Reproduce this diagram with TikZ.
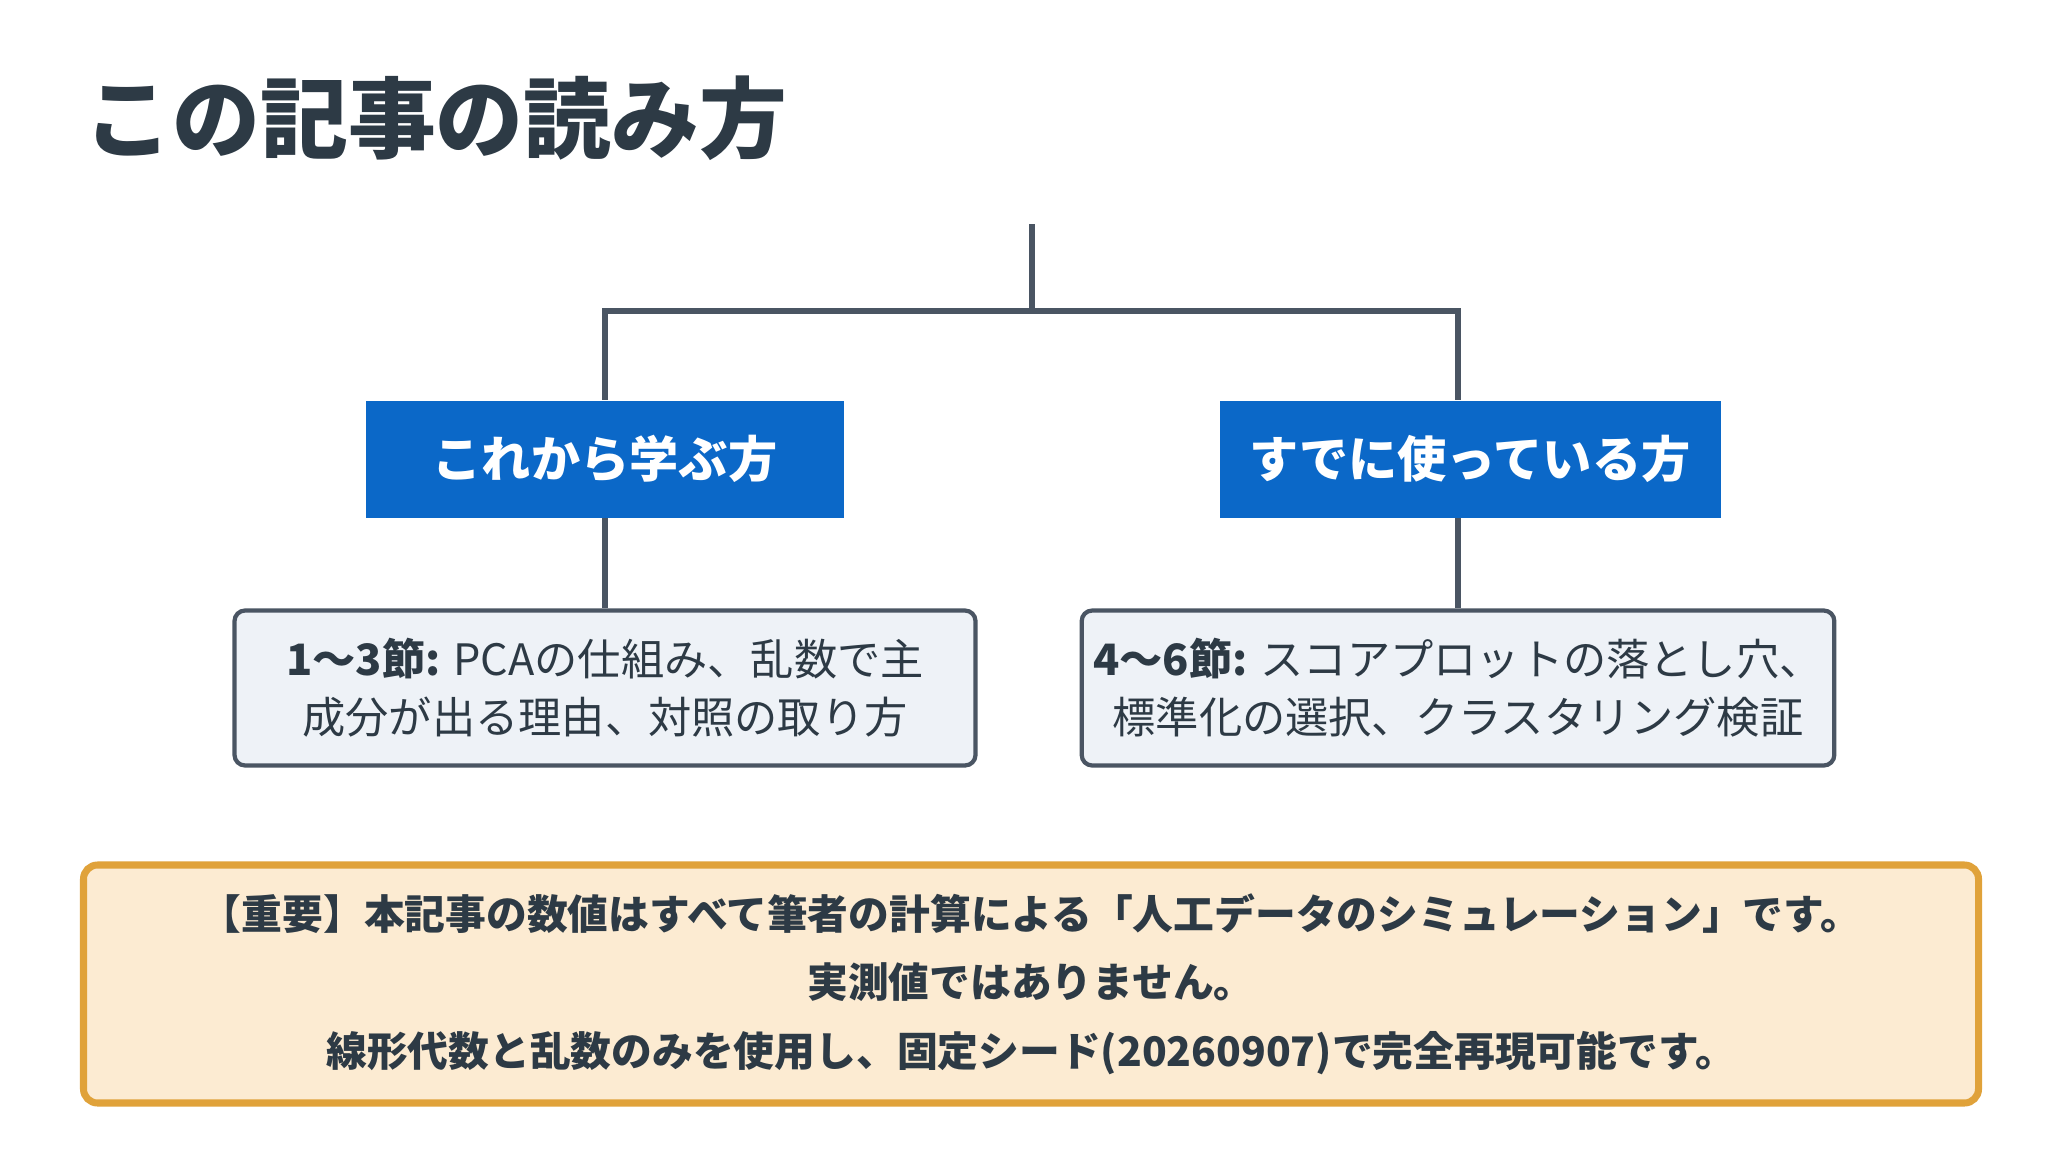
\documentclass[tikz,border=0pt]{standalone}
\usepackage{fontspec}
\setmainfont{Noto Sans CJK JP}
\usetikzlibrary{positioning}
\definecolor{titleColor}{HTML}{2D3A45}
\definecolor{headBlue}{HTML}{0B68C8}
\definecolor{lineGray}{HTML}{4A5563}
\definecolor{noteFill}{HTML}{FCEBD2}
\definecolor{noteEdge}{HTML}{E0A23A}
\definecolor{itemFill}{HTML}{EEF2F7}
\tikzset{
  head/.style={shape=rectangle,fill=headBlue,text=white,font=\fontsize{14}{16}\selectfont\bfseries,minimum width=4.78cm,minimum height=1.17cm},
  item/.style={shape=rectangle,draw=lineGray,line width=1.2pt,fill=itemFill,rounded corners=3pt,text=titleColor,font=\fontsize{12.3}{16.5}\selectfont,minimum width=7.41cm,minimum height=1.55cm,align=center},
  link/.style={draw=lineGray,line width=1.6pt}
}
\begin{document}
\begin{tikzpicture}
  \useasboundingbox[fill=white] (0,0) rectangle (20.64,-11.52);

  \node[anchor=west,text=titleColor,font=\fontsize{25}{28}\selectfont\bfseries] (title) at (0.72,-1.18) {この記事の読み方};

  \node[head] (H1) at (6.05,-4.59) {これから学ぶ方};
  \node[head,minimum width=5.01cm] (H2) at (14.70,-4.59) {すでに使っている方};

  \node[item] (B1) at (6.05,-6.88) {\textbf{1〜3節:} PCAの仕組み、乱数で主\\成分が出る理由、対照の取り方};
  \node[item] (B2) at (14.58,-6.88) {\textbf{4〜6節:} スコアプロットの落とし穴、\\標準化の選択、クラスタリング検証};

  \node[shape=rectangle,draw=noteEdge,line width=2pt,fill=noteFill,rounded corners=4pt,text=titleColor,font=\fontsize{11.6}{19.5}\selectfont\bfseries,minimum width=18.95cm,minimum height=2.38cm,align=center] (note) at (10.31,-9.84) {【重要】本記事の数値はすべて筆者の計算による「人工データのシミュレーション」です。\\実測値ではありません。\\線形代数と乱数のみを使用し、固定シード(20260907)で完全再現可能です。};

  \coordinate (top) at (10.32,-2.24);
  \coordinate (join) at (10.32,-3.11);

  \draw[link] (top) -- (join);
  \draw[link] (H1.north) |- (join) -| (H2.north -| B2.north);
  \draw[link] (H1) -- (B1);
  \draw[link] (H2.south -| B2.north) -- (B2);
\end{tikzpicture}
\end{document}
